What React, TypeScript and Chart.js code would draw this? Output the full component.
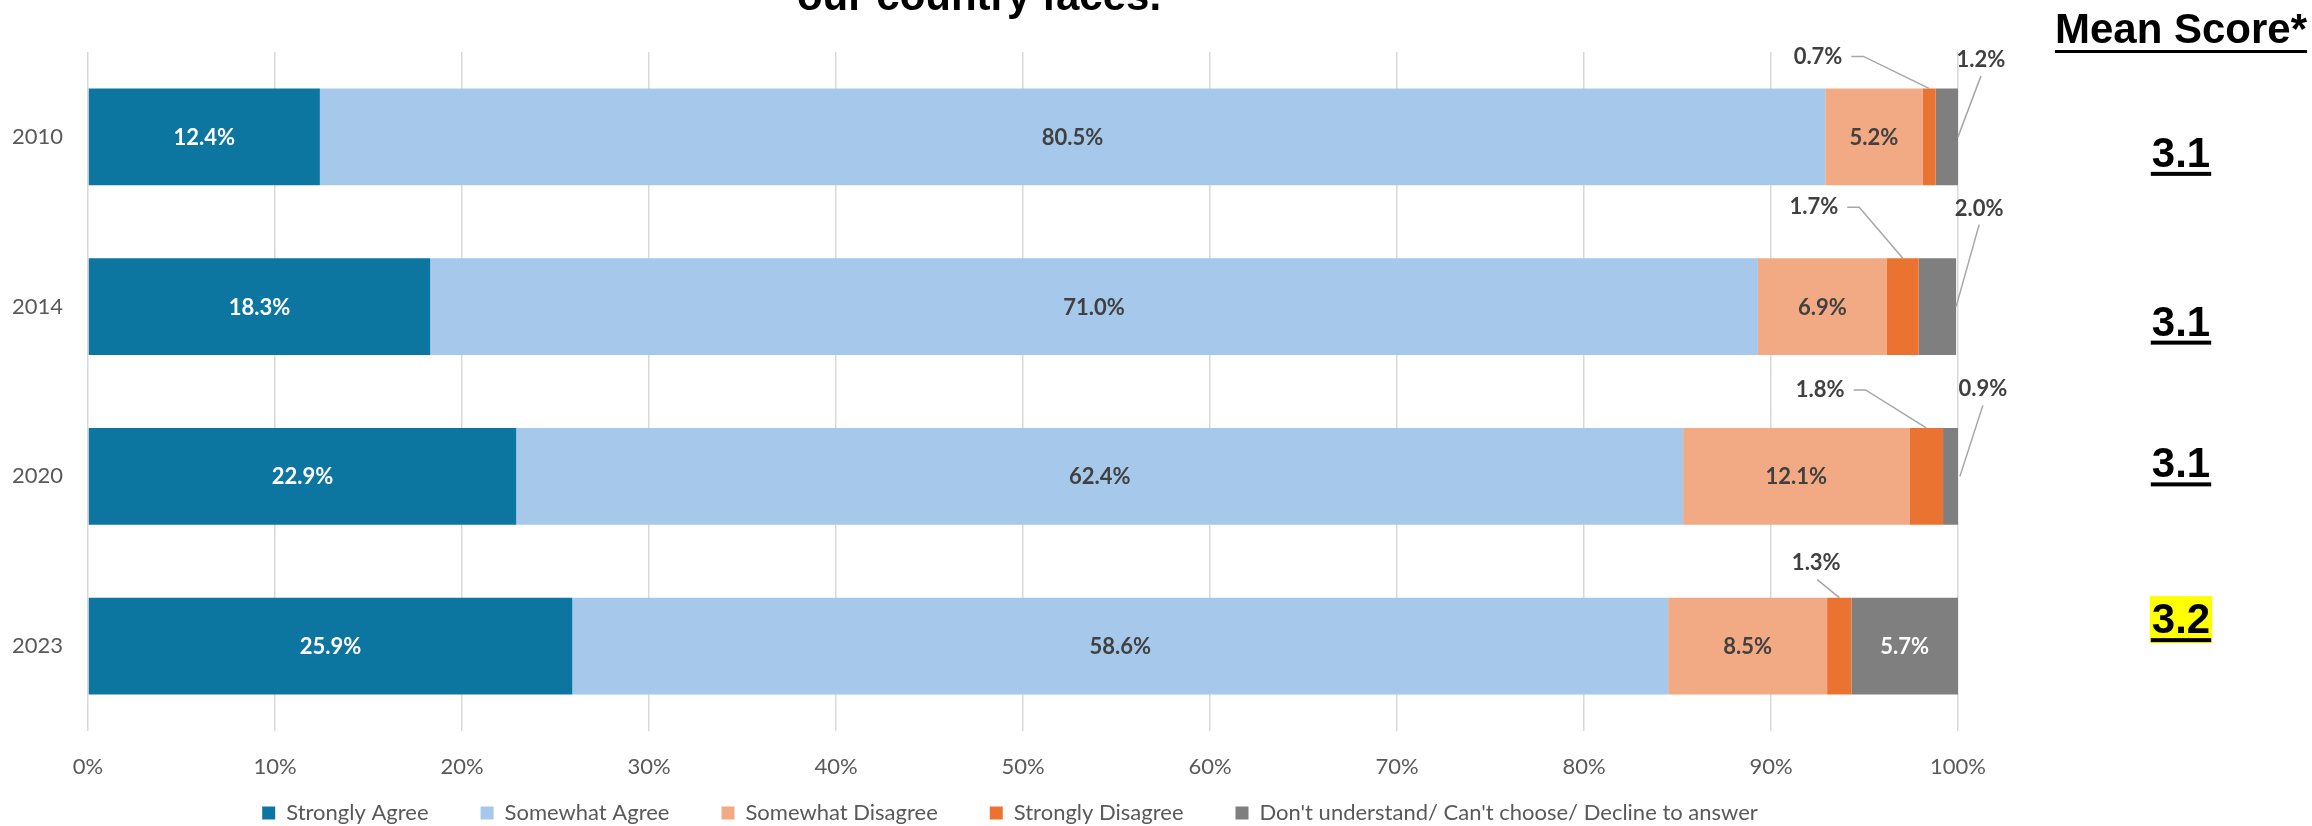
import React, { useEffect, useRef } from "react";
import { Chart, registerables } from "chart.js";

Chart.register(...registerables);

// ---------- data ----------
const years = ["2010", "2014", "2020", "2023"];
const seriesNames = [
  "Strongly Agree",
  "Somewhat Agree",
  "Somewhat Disagree",
  "Strongly Disagree",
  "Don't understand/ Can't choose/ Decline to answer",
];
const stronglyAgree = [12.4, 18.3, 22.9, 25.9];
const somewhatAgree = [80.5, 71.0, 62.4, 58.6];
const somewhatDisagree = [5.2, 6.9, 12.1, 8.5];
const stronglyDisagree = [0.7, 1.7, 1.8, 1.3];
const dontKnow = [1.2, 2.0, 0.9, 5.7];
const meanScores = [3.1, 3.1, 3.1, 3.2];
const meanHighlighted = [false, false, false, true];
const xTickValues = [0, 10, 20, 30, 40, 50, 60, 70, 80, 90, 100];
const titleText = "our country faces.";
const meanHeader = "Mean Score*";

// ---------- styles / layout ----------
const seriesColors = ["#0D76A0", "#A6C9EB", "#F2AA84", "#EB7331", "#7F7F7F"];
const insideLabelColors = ["#FFFFFF", "#404040", "#404040", "#404040", "#FFFFFF"];
const insideThreshold = 5;
const labelFontFamily = "Lato, 'Open Sans', sans-serif";
const boldFontFamily = "'Liberation Sans', Arial, sans-serif";
// callout label offsets (px) : strongly disagree -> relative to segment top centre
const sdCalloutOffsets = [
  { dx: -111, dy: -32 },
  { dx: -89, dy: -51 },
  { dx: -106, dy: -38 },
  { dx: -23, dy: -35 },
];
// don't know -> relative to bar right end, bar centre
const dkCalloutOffsets = [
  { dx: 23, dy: -77 },
  { dx: 23, dy: -98 },
  { dx: 23, dy: -87 },
  { dx: 23, dy: -80 },
];
const meanX = 2181;
const meanHeaderBaseline = 43;
const meanBaselineOffsets = [30, 29, 1, -13];
const titleX = 979;
const titleBaseline = 10;
const legendCenterX = 1010;
const legendTop = 750;

const overlayPlugin = {
  id: "overlay",
  afterLayout(chart: any) {
    const lg = chart.legend;
    if (lg) {
      lg.left = 2 * legendCenterX - lg.right;
      lg.width = lg.right - lg.left;
      lg.top = legendTop;
      lg.bottom = chart.height;
      lg.height = lg.bottom - lg.top;
    }
  },
  afterDatasetsDraw(chart: any) {
    const ctx = chart.ctx as CanvasRenderingContext2D;
    ctx.save();
    ctx.textAlign = "center";
    ctx.textBaseline = "middle";
    chart.data.datasets.forEach((ds: any, di: number) => {
      const meta = chart.getDatasetMeta(di);
      meta.data.forEach((el: any, j: number) => {
        const v = ds.data[j] as number;
        const { x, base, y, height } = el.getProps(["x", "base", "y", "height"], true);
        const cx = (x + base) / 2;
        const txt = v.toFixed(1) + "%";
        ctx.font = `bold 22px ${labelFontFamily}`;
        if (v >= insideThreshold) {
          ctx.fillStyle = insideLabelColors[di];
          ctx.fillText(txt, cx, y + 1);
          return;
        }
        let ax: number, ay: number, off: { dx: number; dy: number };
        if (di === 3) {
          ax = cx;
          ay = y - height / 2;
          off = sdCalloutOffsets[j];
        } else {
          ax = x;
          ay = y;
          off = dkCalloutOffsets[j];
        }
        const lx = ax + off.dx;
        const ly = ay + off.dy;
        const w = ctx.measureText(txt).width;
        ctx.fillStyle = "#404040";
        ctx.fillText(txt, lx, ly);
        const pts: number[][] = [];
        if (di === 3 && Math.abs(off.dx) > 50) {
          pts.push([lx + w / 2 + 9, ly], [lx + w / 2 + 21, ly], [ax, ay]);
        } else if (di === 3) {
          pts.push([lx + 1, ly + 17], [ax, ay]);
        } else {
          pts.push([lx, ly + 16], [ax, ay]);
        }
        ctx.strokeStyle = "#A6A6A6";
        ctx.lineWidth = 1.5;
        ctx.beginPath();
        pts.forEach((p, k) => (k === 0 ? ctx.moveTo(p[0], p[1]) : ctx.lineTo(p[0], p[1])));
        ctx.stroke();
      });
    });
    ctx.restore();
  },
  afterDraw(chart: any) {
    const ctx = chart.ctx as CanvasRenderingContext2D;
    ctx.save();
    ctx.fillStyle = "#000000";
    ctx.textBaseline = "alphabetic";
    ctx.textAlign = "center";
    ctx.font = `bold 42px ${boldFontFamily}`;
    // title (last line visible)
    ctx.fillText(titleText, titleX, titleBaseline);
    // mean header
    const hw = ctx.measureText(meanHeader).width;
    ctx.fillText(meanHeader, meanX, meanHeaderBaseline);
    ctx.fillRect(meanX - hw / 2, meanHeaderBaseline + 7, hw, 3);
    // mean scores
    const meta = chart.getDatasetMeta(0);
    meanScores.forEach((m, j) => {
      const el = meta.data[j];
      const by = el.y + meanBaselineOffsets[j];
      const txt = m.toFixed(1);
      const w = ctx.measureText(txt).width;
      if (meanHighlighted[j]) {
        ctx.fillStyle = "#FFFF00";
        ctx.fillRect(meanX - w / 2 - 2, by - 37, w + 4, 47);
      }
      ctx.fillStyle = "#000000";
      ctx.fillText(txt, meanX, by);
      ctx.fillRect(meanX - w / 2 - 1, by + 5, w + 2, 4);
    });
    ctx.restore();
  },
};

export default function App() {
  const ref = useRef<HTMLCanvasElement | null>(null);
  useEffect(() => {
    if (!ref.current) return;
    const values = [stronglyAgree, somewhatAgree, somewhatDisagree, stronglyDisagree, dontKnow];
    const chart = new Chart(ref.current, {
      type: "bar",
      data: {
        labels: years,
        datasets: seriesNames.map((name, i) => ({
          label: name,
          data: values[i],
          backgroundColor: seriesColors[i],
          borderWidth: 0,
          categoryPercentage: 1,
          barPercentage: 0.571,
        })),
      },
      options: {
        indexAxis: "y",
        responsive: false,
        animation: false,
        devicePixelRatio: 1,
        layout: { padding: { left: 8, right: 354, top: 52, bottom: 0 } },
        scales: {
          x: {
            stacked: true,
            min: 0,
            max: 100,
            afterBuildTicks: (s: any) => {
              s.ticks = xTickValues.map((v) => ({ value: v }));
            },
            afterFit: (s: any) => {
              s.height = 58;
            },
            grid: { color: "#D9D9D9", lineWidth: 1.5, drawTicks: false },
            border: { display: false },
            ticks: {
              padding: 23,
              color: "#595959",
              font: { family: labelFontFamily, size: 22 },
              callback: (v: any) => v + "%",
            },
          },
          y: {
            stacked: true,
            afterFit: (s: any) => {
              s.width = 80;
            },
            grid: { display: false, drawTicks: false },
            border: { display: false },
            ticks: {
              padding: 25,
              color: "#595959",
              font: { family: labelFontFamily, size: 22 },
            },
          },
        },
        plugins: {
          title: { display: false },
          tooltip: { enabled: false },
          legend: {
            position: "bottom",
            maxHeight: 37,
            labels: {
              boxWidth: 13,
              boxHeight: 13,
              padding: 52,
              color: "#595959",
              font: { family: labelFontFamily, size: 22 },
            },
          },
        },
      },
      plugins: [overlayPlugin],
    });
    return () => chart.destroy();
  }, []);
  return (
    <div style={{ position: "absolute", left: 0, top: 0, width: 2312, height: 826, background: "#fff" }}>
      <canvas ref={ref} width={2312} height={826} style={{ display: "block" }} />
    </div>
  );
}
